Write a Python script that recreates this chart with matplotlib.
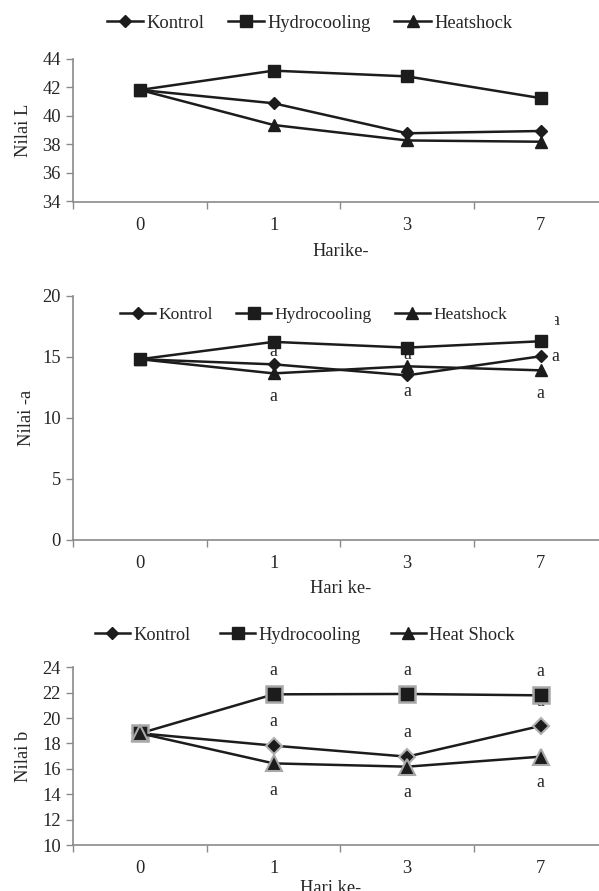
import matplotlib
matplotlib.use("Agg")
import matplotlib.pyplot as plt
from matplotlib.patches import Rectangle

plt.rcParams['font.family'] = ['Liberation Serif', 'DejaVu Serif']

days = ["0", "1", "3", "7"]
series_names = ["Kontrol", "Hydrocooling", "Heatshock"]
series_names_b = ["Kontrol", "Hydrocooling", "Heat Shock"]

L_kontrol = [41.8, 40.87, 38.77, 38.93]
L_hydro = [41.8, 43.15, 42.75, 41.23]
L_heat = [41.8, 39.35, 38.27, 38.18]

a_kontrol = [14.8, 14.38, 13.48, 15.04]
a_hydro = [14.8, 16.22, 15.75, 16.27]
a_heat = [14.8, 13.64, 14.22, 13.89]

b_kontrol = [18.8, 17.83, 16.96, 19.38]
b_hydro = [18.8, 21.87, 21.90, 21.79]
b_heat = [18.8, 16.43, 16.17, 16.96]

# significance letters: (category index, y value, text)
ann_a_x = [1, 1, 2, 2, 3.11, 3.11, 3]
ann_a_y = [15.4, 11.75, 15.2, 12.16, 18.0, 15.04, 11.97]
ann_a_t = ["a", "a", "a", "a", "a", "a", "a"]

ann_b_x = [1, 2, 3, 1, 2, 3, 1, 2, 3]
ann_b_y = [23.74, 23.74, 23.68, 19.72, 18.85, 21.3, 14.33, 14.15, 14.91]
ann_b_t = ["a"] * 9

W, H = 599, 891
fig = plt.figure(figsize=(W / 100, H / 100), dpi=100)

LINE = "#1c1c1c"
TXT = "#262626"
AX = "#8a8a8a"
FS = 13.3

def px_axes(left, top, right, bottom):
    return fig.add_axes([left / W, 1 - bottom / H, (right - left) / W, (bottom - top) / H])

def style(ax, ylim, yticks, ylabel, xlabel, xlabel_xy, ylabel_x):
    ax.set_xlim(-0.5, 3.5)
    ax.set_ylim(*ylim)
    ax.set_yticks(yticks)
    ax.set_yticklabels([str(t) for t in yticks], fontsize=FS, color=TXT)
    ax.set_xticks([-0.5, 0.5, 1.5, 2.5, 3.5])
    ax.set_xticklabels([])
    ax.set_xticks([0, 1, 2, 3], minor=True)
    ax.set_xticklabels(days, minor=True, fontsize=FS, color=TXT)
    ax.tick_params(axis='x', which='minor', length=0, pad=11)
    ax.tick_params(axis='x', which='major', length=5, color=AX, width=1)
    ax.tick_params(axis='y', length=5, color=AX, width=1, pad=4)
    for s in ['top', 'right']:
        ax.spines[s].set_visible(False)
    for s in ['left', 'bottom']:
        ax.spines[s].set_color(AX)
        ax.spines[s].set_linewidth(1.2)
    ax.set_ylabel(ylabel, fontsize=FS, color=TXT)
    ax.yaxis.set_label_coords(ylabel_x, 0.5)
    ax.set_xlabel(xlabel, fontsize=FS, color=TXT)
    ax.xaxis.set_label_coords(*xlabel_xy)
    ax.patch.set_visible(False)

def legend(handles, labels, x, y, fs, hl, cs):
    leg = fig.legend(handles, labels, loc='center left',
                     bbox_to_anchor=(x / W, 1 - y / H), ncol=3, frameon=False,
                     fontsize=fs, handlelength=hl, handletextpad=0.18,
                     columnspacing=cs, borderpad=0, borderaxespad=0)
    for t in leg.get_texts():
        t.set_color(TXT)
    leg.set_zorder(20)
    return leg

x = [0, 1, 2, 3]
LEFT, RIGHT = 73.3, 607.3

# ---------- Panel 1 ----------
ax1 = px_axes(LEFT, 58.5, RIGHT, 201.5)
h1 = ax1.plot(x, L_kontrol, color=LINE, lw=1.8, marker='D', ms=6.5, mfc=LINE, mec=LINE, zorder=3)[0]
h3 = ax1.plot(x, L_heat, color=LINE, lw=1.8, marker='^', ms=8.5, mfc=LINE, mec=LINE, zorder=3)[0]
h2 = ax1.plot(x, L_hydro, color=LINE, lw=1.8, marker='s', ms=8, mfc=LINE, mec=LINE, zorder=4)[0]
style(ax1, (34, 44), [34, 36, 38, 40, 42, 44], "Nilai L", "Harike-", (0.5, -0.29), -0.078)
legend([h1, h2, h3], series_names, 106.7, 23, 13.3, 1.98, 1.26)

# ---------- Panel 2 ----------
ax2 = px_axes(LEFT, 295.7, RIGHT, 540)
g1 = ax2.plot(x, a_kontrol, color=LINE, lw=1.8, marker='D', ms=6.5, mfc=LINE, mec=LINE, zorder=3)[0]
g3 = ax2.plot(x, a_heat, color=LINE, lw=1.8, marker='^', ms=8.5, mfc=LINE, mec=LINE, zorder=3)[0]
g2 = ax2.plot(x, a_hydro, color=LINE, lw=1.8, marker='s', ms=8, mfc=LINE, mec=LINE, zorder=4)[0]
style(ax2, (0, 20), [0, 5, 10, 15, 20], "Nilai -a", "Hari ke-", (0.5, -0.165), -0.072)
for xx, yy, tt in zip(ann_a_x, ann_a_y, ann_a_t):
    ax2.text(xx, yy, tt, ha='center', va='center', fontsize=12.8, color=TXT, zorder=2)
# white legend box partly hiding a letter, as in the source
ax2.add_patch(Rectangle(((117 - LEFT) / 534, (540 - 328) / 244.3),
                        (554.5 - 117) / 534, 26 / 244.3, transform=ax2.transAxes,
                        facecolor='white', edgecolor='none', zorder=10))
legend([g1, g2, g3], series_names, 120, 315, 12.6, 2.0, 1.34)

# ---------- Panel 3 ----------
ax3 = px_axes(LEFT, 667.3, RIGHT, 845)
k1 = ax3.plot(x, b_kontrol, color=LINE, lw=1.8, marker='D', ms=8, mfc=LINE, mec='#b0b0b0', mew=1.5, zorder=3)[0]
k2 = ax3.plot(x, b_hydro, color=LINE, lw=1.8, marker='s', ms=11, mfc=LINE, mec='#a8a8a8', mew=1.8, zorder=4)[0]
k3 = ax3.plot(x, b_heat, color=LINE, lw=1.8, marker='^', ms=11, mfc=LINE, mec='#a8a8a8', mew=1.5, zorder=5)[0]
style(ax3, (10, 24), [10, 12, 14, 16, 18, 20, 22, 24], "Nilai b", "Hari ke-", (0.481, -0.195), -0.078)
for xx, yy, tt in zip(ann_b_x, ann_b_y, ann_b_t):
    ax3.text(xx, yy, tt, ha='center', va='center', fontsize=12.8, color=TXT, zorder=2)
lk1 = plt.Line2D([], [], color=LINE, lw=1.8, marker='D', ms=6.5, mfc=LINE, mec=LINE)
lk2 = plt.Line2D([], [], color=LINE, lw=1.8, marker='s', ms=8, mfc=LINE, mec=LINE)
lk3 = plt.Line2D([], [], color=LINE, lw=1.8, marker='^', ms=8.5, mfc=LINE, mec=LINE)
legend([lk1, lk2, lk3], series_names_b, 95, 635, 13.2, 1.9, 1.64)

fig.savefig("out.png", dpi=100, facecolor='white')
